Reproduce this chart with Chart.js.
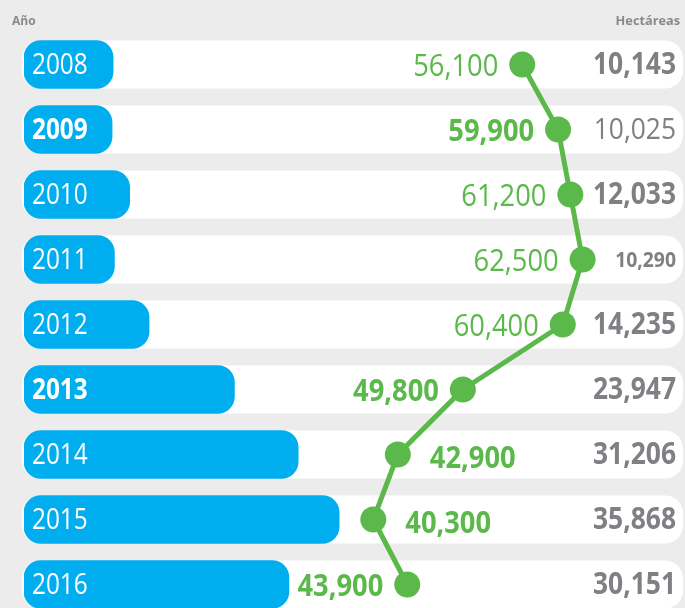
<!DOCTYPE html>
<html>
<head>
<meta charset="utf-8">
<script src="https://cdn.jsdelivr.net/npm/chart.js@4.4.1/dist/chart.umd.min.js"></script>
<style>
  html, body { margin: 0; padding: 0; background: #ececec; overflow: hidden; }
  canvas { display: block; }
</style>
</head>
<body>
<canvas id="chart" width="685" height="620"></canvas>
<script>
// yearly figures
const years = ['2008', '2009', '2010', '2011', '2012', '2013', '2014', '2015', '2016'];
const hectares = [10143, 10025, 12033, 10290, 14235, 23947, 31206, 35868, 30151];
const production = [56100, 59900, 61200, 62500, 60400, 49800, 42900, 40300, 43900];

// per-row text styling
const yearWeights = ['normal', 'bold', 'normal', 'normal', 'normal', 'bold', 'normal', 'normal', 'normal'];
const prodWeights = ['normal', 'bold', 'normal', 'normal', 'normal', 'bold', 'bold', 'bold', 'bold'];
const prodSides = ['left', 'left', 'left', 'left', 'left', 'left', 'right', 'right', 'left'];
const haWeights = ['bold', 'normal', 'bold', 'bold', 'bold', 'bold', 'bold', 'bold', 'bold'];
const haSizes = [30, 30, 30, 22, 30, 30, 30, 30, 30];

const BLUE = '#00aeef';
const GREEN = '#5bb94b';
const GRAY = '#7f7f84';
const FONT = "'Open Sans', 'Liberation Sans', sans-serif";

const fmt = v => v.toLocaleString('en-US');

// text squeezed horizontally for a condensed look
function drawText(ctx, text, x, y, align, squeeze) {
  ctx.save();
  ctx.translate(x, y);
  ctx.scale(squeeze, 1);
  ctx.textAlign = align;
  ctx.fillText(text, 0, 0);
  ctx.restore();
}

// white rounded strip behind every row
const rowStrips = {
  id: 'rowStrips',
  beforeDatasetsDraw(chart) {
    const {ctx, chartArea, scales: {y}} = chart;
    ctx.save();
    ctx.fillStyle = '#ffffff';
    years.forEach((_, i) => {
      const cy = y.getPixelForValue(i);
      ctx.beginPath();
      ctx.roundRect(chartArea.left - 2, cy - 24, chartArea.right - chartArea.left + 2, 48, 18);
      ctx.fill();
    });
    ctx.restore();
  }
};

// year names, production values and hectare values
const rowLabels = {
  id: 'rowLabels',
  afterDatasetsDraw(chart) {
    const {ctx, chartArea, scales: {y}} = chart;
    const points = chart.getDatasetMeta(1).data;
    ctx.save();
    ctx.textBaseline = 'middle';

    ctx.fillStyle = '#8a8a8a';
    ctx.font = 'bold 13px ' + FONT;
    drawText(ctx, 'Año', 12, 21, 'left', 0.93);
    drawText(ctx, 'Hectáreas', 680, 21, 'right', 0.98);

    years.forEach((yr, i) => {
      const cy = y.getPixelForValue(i) + 1;

      ctx.fillStyle = '#ffffff';
      ctx.font = `${yearWeights[i]} 29px ${FONT}`;
      drawText(ctx, yr, chartArea.left + 8, cy, 'left', 0.84);

      ctx.fillStyle = GRAY;
      ctx.font = `${haWeights[i]} ${haSizes[i]}px ${FONT}`;
      drawText(ctx, fmt(hectares[i]), chartArea.right - 7, cy, 'right', 0.88);

      const pt = points[i];
      ctx.fillStyle = GREEN;
      ctx.font = `${prodWeights[i]} 31px ${FONT}`;
      if (prodSides[i] === 'left') {
        drawText(ctx, fmt(production[i]), pt.x - 24, cy + 2, 'right', 0.88);
      } else {
        drawText(ctx, fmt(production[i]), pt.x + 32, cy + 4, 'left', 0.88);
      }
    });
    ctx.restore();
  }
};

new Chart(document.getElementById('chart'), {
  data: {
    labels: years,
    datasets: [
      {
        type: 'bar',
        data: hectares,
        xAxisID: 'x',
        backgroundColor: BLUE,
        barThickness: 48,
        borderRadius: 17,
        borderSkipped: false,
        order: 2
      },
      {
        type: 'line',
        indexAxis: 'y',
        data: production,
        xAxisID: 'x2',
        borderColor: GREEN,
        borderWidth: 5,
        pointRadius: 13,
        pointBackgroundColor: GREEN,
        pointBorderWidth: 0,
        order: 1
      }
    ]
  },
  options: {
    indexAxis: 'y',
    responsive: false,
    animation: false,
    layout: { autoPadding: false, padding: { left: 24, right: 2, top: 32, bottom: 3 } },
    scales: {
      y: { type: 'category', offset: true, display: false },
      x: { type: 'linear', min: 0, max: 75000, display: false },
      x2: { type: 'linear', min: 3250, max: 73150, display: false }
    },
    plugins: {
      legend: { display: false },
      tooltip: { enabled: false }
    }
  },
  plugins: [rowStrips, rowLabels]
});
</script>
</body>
</html>
